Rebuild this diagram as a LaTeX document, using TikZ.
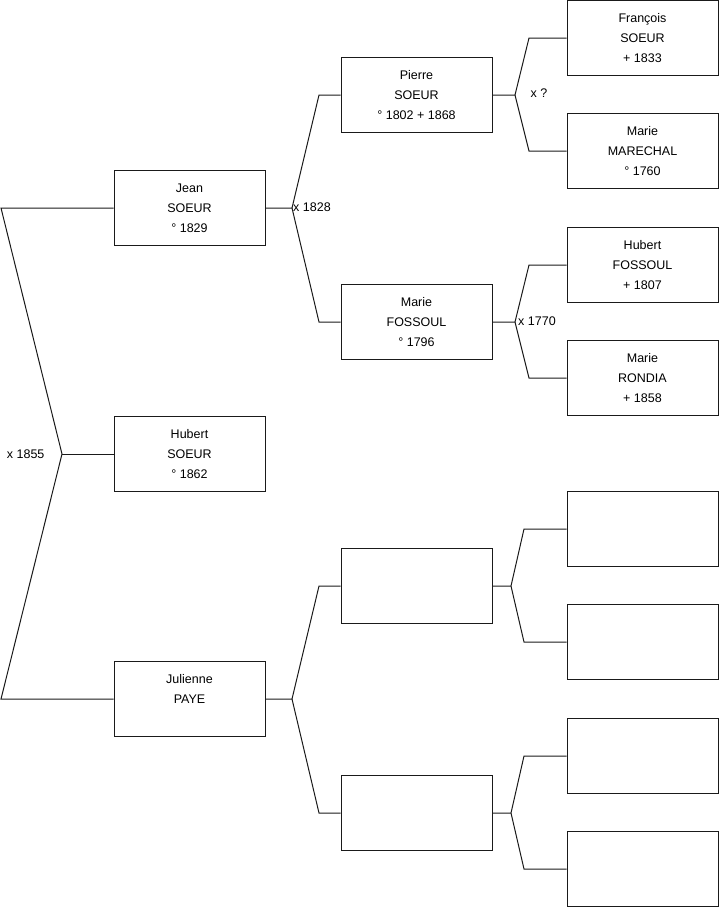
\documentclass[tikz,border=0pt]{standalone}
\usepackage{fontspec}
\setmainfont{Liberation Sans}
\usepackage{tikz}
\usetikzlibrary{positioning,calc}
\definecolor{treeLine}{HTML}{1A1A1A}
\definecolor{treeBox}{HTML}{1A1A1A}

\begin{document}
\begin{tikzpicture}[x=1pt,y=-1pt,
  every node/.style={font=\fontsize{12.5}{20}\selectfont},
  person/.style={draw=treeBox,line width=1pt,minimum width=151pt,minimum height=75pt,align=center,inner sep=0pt},
  link/.style={draw=treeLine,line width=1pt}]
\useasboundingbox (0,0) rectangle (719,908);
% generation 1
\node[person] (jean) at (189.5,208) {Jean\\SOEUR\\° 1829};
\node[person] (hubert) at (189.5,454) {Hubert\\SOEUR\\° 1862};
\node[person] (julienne) at (189.5,699) {Julienne\\PAYE\\\mbox{}};
% generation 2
\node[person] (pierre) at (416.5,95) {Pierre\\SOEUR\\° 1802 + 1868};
\node[person] (marieF) at (416.5,322) {Marie\\FOSSOUL\\° 1796};
\node[person] (pereP) at (416.5,586) {};
\node[person] (mereP) at (416.5,813) {};
% generation 3
\node[person] (francois) at (642.5,38) {François\\SOEUR\\ + 1833};
\node[person] (marieM) at (642.5,151) {Marie\\MARECHAL\\° 1760};
\node[person] (hubertF) at (642.5,265) {Hubert\\FOSSOUL\\ + 1807};
\node[person] (marieR) at (642.5,378) {Marie\\RONDIA\\ + 1858};
\node[person] (e1) at (642.5,529) {};
\node[person] (e2) at (642.5,642) {};
\node[person] (e3) at (642.5,756) {};
\node[person] (e4) at (642.5,869) {};
% marriages
\coordinate (m0) at (62,454);
\coordinate (m0a) at (1,208);
\coordinate (m0b) at (1,699);
\draw[link] (jean.west) -- (m0a) -- (m0) -- (m0b) -- (julienne.west);
\draw[link] (m0) -- (hubert.west);
\node[anchor=east] (w0) at (m0) [xshift=-14pt] {x 1855};
\coordinate (m1) at (292,208);
\draw[link] (jean.east) -- (m1) -- (319,95) -- (pierre.west);
\draw[link] (m1) -- (319,322) -- (marieF.west);
\node[anchor=west,inner sep=1pt] (w1) at (m1) [yshift=1pt] {x 1828};
\coordinate (m2) at (292,699);
\draw[link] (julienne.east) -- (m2) -- (319,586) -- (pereP.west);
\draw[link] (m2) -- (319,813) -- (mereP.west);
\coordinate (m3) at (515,95);
\draw[link] (pierre.east) -- (m3) -- (529,38) -- (francois.west);
\draw[link] (m3) -- (529,151) -- (marieM.west);
\node[anchor=west] (w3) at (m3) [xshift=12pt,yshift=2pt] {x ?};
\coordinate (m4) at (515,322);
\draw[link] (marieF.east) -- (m4) -- (529,265) -- (hubertF.west);
\draw[link] (m4) -- (529,378) -- (marieR.west);
\node[anchor=west,inner sep=1pt] (w4) at (m4) [xshift=2pt,yshift=1pt] {x 1770};
\coordinate (m5) at (511,586);
\draw[link] (pereP.east) -- (m5) -- (524,529) -- (e1.west);
\draw[link] (m5) -- (524,642) -- (e2.west);
\coordinate (m6) at (511,813);
\draw[link] (mereP.east) -- (m6) -- (524,756) -- (e3.west);
\draw[link] (m6) -- (524,869) -- (e4.west);
\end{tikzpicture}
\end{document}
